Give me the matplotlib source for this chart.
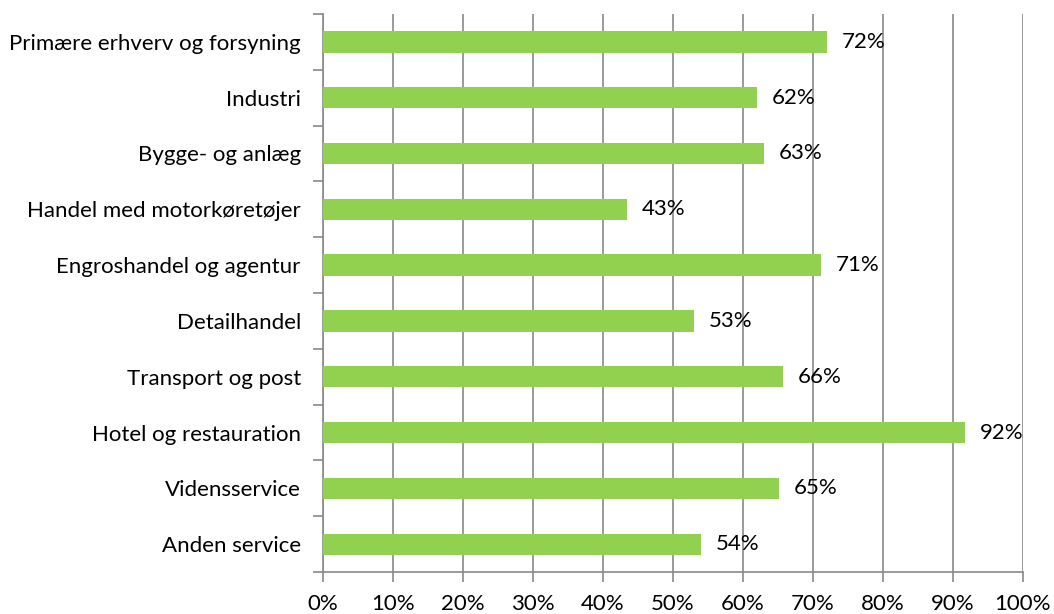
import numpy as np
import matplotlib

matplotlib.use('Agg')
import matplotlib.pyplot as plt
from matplotlib.ticker import FixedLocator, PercentFormatter

categories = [
    "Primære erhverv og forsyning",
    "Industri",
    "Bygge- og anlæg",
    "Handel med motorkøretøjer",
    "Engroshandel og agentur",
    "Detailhandel",
    "Transport og post",
    "Hotel og restauration",
    "Vidensservice",
    "Anden service",
]
values = [72.0, 62.0, 63.0, 43.4, 71.2, 53.0, 65.7, 91.7, 65.1, 54.0]
labels = ["72%", "62%", "63%", "43%", "71%", "53%", "66%", "92%", "65%", "54%"]


def main():
    plt.rcParams['font.family'] = ['Lato', 'DejaVu Sans']
    fig = plt.figure(figsize=(10.54, 6.14), dpi=100)
    ax = fig.add_axes([0.3065, 0.0684, 0.664, 0.9088])

    y = np.arange(len(categories))
    ax.barh(y, values, height=0.38, color='#92D050', zorder=3)

    for yi, v, lab in zip(y, values, labels):
        ax.text(v + 2.1, yi, lab, va='center', ha='left', fontsize=16,
                color='#000000', zorder=4)

    ax.set_xlim(0, 100)
    ax.set_ylim(len(categories) - 0.5, -0.5)
    ax.set_xticks(np.arange(0, 101, 10))
    ax.xaxis.set_major_formatter(PercentFormatter(decimals=0))
    ax.set_yticks(y)
    ax.set_yticklabels(categories)
    ax.yaxis.set_minor_locator(FixedLocator(np.arange(-0.5, len(categories), 1.0)))

    ax.tick_params(axis='y', which='major', length=0, pad=16, labelsize=16)
    ax.tick_params(axis='y', which='minor', length=7, color='#898989', width=1.2)
    ax.tick_params(axis='x', which='major', length=7, color='#898989', width=1.2,
                   labelsize=16, pad=9)

    ax.grid(True, axis='x', color='#898989', linewidth=1.2, zorder=0)
    for side in ['top', 'right']:
        ax.spines[side].set_visible(False)
    for side in ['left', 'bottom']:
        ax.spines[side].set_color('#898989')
        ax.spines[side].set_linewidth(1.2)

    fig.savefig("out.png", dpi=100)
    plt.close(fig)


if __name__ == "__main__":
    main()
